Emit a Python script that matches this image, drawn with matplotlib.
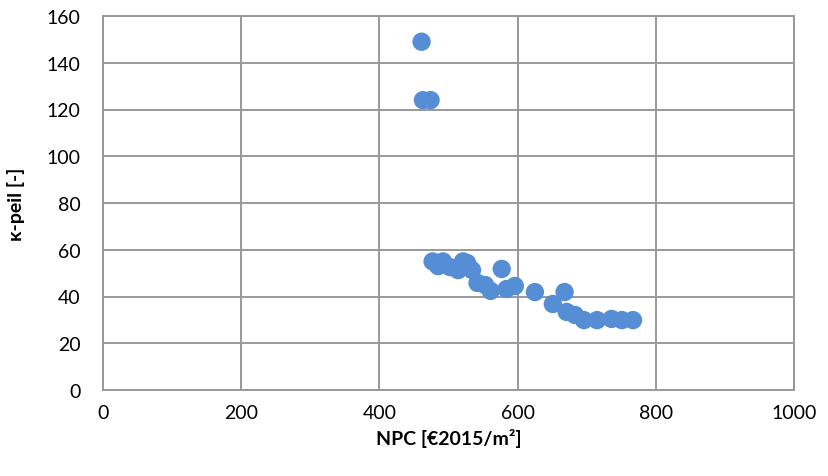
import matplotlib
matplotlib.use("Agg")
import matplotlib.pyplot as plt

# NPC [€2015/m²] and K-level of each evaluated variant
npc = [461, 463, 474, 477, 485, 492, 502, 514, 521, 527, 534, 542, 553, 561,
       577, 584, 596, 625, 651, 668, 671, 683, 696, 715, 736, 751, 767]
kpeil = [149, 124, 124, 55, 53, 55, 52.6, 51.3, 55, 54.3, 51.3, 45.8, 44.9, 42.4,
         51.8, 43.2, 44.5, 41.9, 36.8, 41.9, 33.4, 32.1, 29.9, 29.9, 30.4, 29.9, 29.9]

x_ticks = [0, 200, 400, 600, 800, 1000]
y_ticks = [0, 20, 40, 60, 80, 100, 120, 140, 160]

plt.rcParams['font.family'] = ['Lato', 'DejaVu Sans']

W, H = 829, 477
fig = plt.figure(figsize=(W / 100, H / 100), dpi=100)
ax = fig.add_axes([103 / W, 1 - 391 / H, (794 - 103) / W, (391 - 17) / H])

grid_col = '#999999'
ax.scatter(npc, kpeil, s=175, color='#558ED5', edgecolors='none', zorder=3)

ax.set_xlim(0, 1000)
ax.set_ylim(0, 160)
ax.set_xticks(x_ticks)
ax.set_yticks(y_ticks)
ax.grid(True, color=grid_col, linewidth=1.4, zorder=0)
for sp in ax.spines.values():
    sp.set_color(grid_col)
    sp.set_linewidth(1.4)
ax.tick_params(axis='y', length=0, labelsize=14, colors='black', pad=16)
ax.tick_params(axis='x', length=0, labelsize=14, colors='black', pad=10)

ax.set_xlabel('NPC [€2015/m²]', fontsize=14, fontweight='bold', labelpad=5)
ax.set_ylabel('κ-peil [-]', fontsize=14, fontweight='bold', labelpad=16)

fig.savefig('out.png', dpi=100)
